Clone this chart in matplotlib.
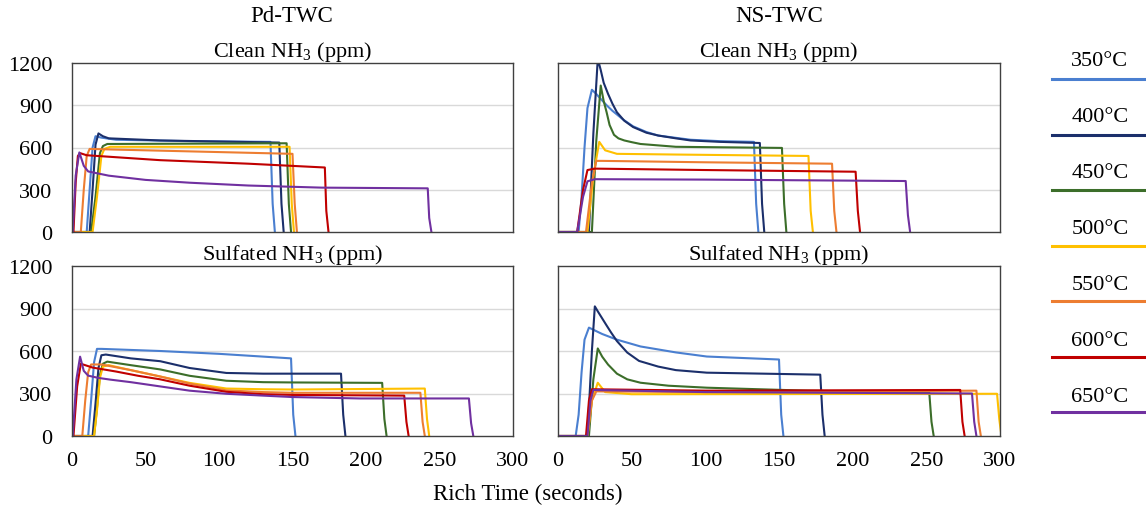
import matplotlib
matplotlib.use("Agg")
import matplotlib.pyplot as plt
from matplotlib.lines import Line2D

plt.rcParams["font.family"] = ["Liberation Serif", "DejaVu Serif"]
plt.rcParams["mathtext.fontset"] = "custom"
plt.rcParams["mathtext.rm"] = "Liberation Serif"

temps = ["350°C", "400°C", "450°C", "500°C", "550°C", "600°C", "650°C"]
colors = ["#4A7FD0", "#1B2F6B", "#3C6E2A", "#FFC000", "#ED7D31", "#C00000", "#7030A0"]

# Pd-TWC, clean
pd_clean_t = [
    [0, 10, 12, 14, 16, 20, 30, 80, 135, 136.5, 138],
    [0, 12, 14, 16, 18, 21, 25, 60, 141, 142.5, 144],
    [0, 13, 16, 19, 21, 24, 146, 147.5, 149],
    [0, 14, 17, 20, 22, 26, 148, 149.5, 151],
    [0, 6, 8, 10, 12, 30, 150, 151.5, 153],
    [0, 1, 2.5, 4, 5.5, 10, 60, 120, 172, 173, 174.5],
    [0, 0.5, 2.5, 5, 8, 11, 25, 50, 80, 120, 170, 242, 243, 244.5],
]
pd_clean_ppm = [
    [0, 0, 300, 600, 680, 670, 655, 645, 640, 200, 0],
    [0, 0, 300, 620, 700, 680, 665, 650, 635, 200, 0],
    [0, 0, 250, 560, 610, 625, 630, 200, 0],
    [0, 0, 250, 540, 590, 605, 605, 200, 0],
    [0, 0, 300, 540, 590, 585, 555, 200, 0],
    [0, 0, 350, 540, 560, 545, 510, 485, 458, 150, 0],
    [0, 0, 400, 565, 470, 430, 400, 370, 350, 330, 315, 310, 100, 0],
]

# NS-TWC, clean
ns_clean_t = [
    [0, 14, 16, 18, 20, 23, 26, 29, 33, 37, 44, 51, 60, 68, 90, 110, 133, 134.5, 136],
    [0, 21, 24, 27, 29, 31, 34, 37, 40, 45, 51, 60, 68, 80, 90, 110, 137, 138.5, 140],
    [0, 23, 26, 29, 31, 33, 35, 38, 41, 45, 50, 56, 80, 152, 153.5, 155],
    [0, 20, 24, 28, 32, 40, 80, 170, 171.5, 173],
    [0, 19, 23, 26, 30, 100, 186, 187.5, 189],
    [0, 13, 17, 20, 25, 100, 202, 203.5, 205],
    [0, 13, 17, 20, 25, 100, 236, 237.5, 239],
]
ns_clean_ppm = [
    [0, 0, 250, 600, 880, 1010, 980, 945, 900, 860, 800, 750, 710, 685, 655, 645, 640, 200, 0],
    [0, 0, 700, 1230, 1150, 1060, 980, 910, 850, 790, 745, 705, 685, 665, 650, 640, 632, 200, 0],
    [0, 0, 650, 1040, 930, 850, 760, 690, 665, 650, 638, 625, 605, 597, 200, 0],
    [0, 0, 400, 640, 580, 555, 550, 540, 150, 0],
    [0, 0, 350, 505, 505, 495, 485, 150, 0],
    [0, 0, 300, 440, 450, 440, 428, 150, 0],
    [0, 0, 250, 360, 375, 372, 362, 120, 0],
]

# Pd-TWC, sulfated
pd_sulf_t = [
    [0, 11, 13, 15, 17, 20, 60, 100, 149, 150.5, 152],
    [0, 14, 16, 18, 20, 23, 40, 60, 80, 105, 130, 183, 184.5, 186],
    [0, 15, 17, 19, 21, 24, 40, 60, 80, 105, 130, 150, 211, 212.5, 214],
    [0, 15, 17, 19, 21, 25, 40, 60, 80, 105, 130, 150, 240, 241.5, 243],
    [0, 7, 9, 11, 13, 20, 40, 60, 80, 105, 130, 150, 237, 238.5, 240],
    [0, 1, 3.5, 6, 14, 30, 45, 60, 80, 105, 130, 150, 226, 227.5, 229],
    [0, 0.5, 3, 5.5, 8, 11, 18, 26, 40, 60, 80, 105, 130, 150, 196, 270, 271.5, 273],
]
pd_sulf_ppm = [
    [0, 0, 250, 520, 615, 615, 600, 580, 548, 150, 0],
    [0, 0, 230, 480, 570, 575, 548, 528, 480, 445, 440, 440, 150, 0],
    [0, 0, 200, 430, 510, 525, 500, 470, 425, 390, 380, 378, 375, 120, 0],
    [0, 0, 180, 410, 490, 500, 465, 420, 375, 335, 330, 328, 335, 120, 0],
    [0, 0, 250, 450, 505, 505, 465, 420, 370, 322, 310, 305, 305, 100, 0],
    [0, 0, 350, 510, 483, 455, 425, 400, 355, 312, 295, 290, 285, 100, 0],
    [0, 0, 400, 560, 460, 426, 410, 398, 380, 350, 320, 298, 285, 275, 265, 265, 90, 0],
]

# NS-TWC, sulfated
ns_sulf_t = [
    [0, 12, 14, 16, 18, 21, 25, 30, 40, 56, 80, 101, 150, 151.5, 153],
    [0, 20, 23, 25, 27, 30, 33, 36, 40, 47, 55, 68, 80, 101, 178, 179.5, 181],
    [0, 21, 24, 27, 30, 34, 40, 47, 56, 75, 101, 169, 252, 253.5, 255],
    [0, 20, 23, 27, 32, 50, 298, 299.5, 301],
    [0, 20, 23, 26, 100, 284, 285.5, 287],
    [0, 19, 21, 23, 100, 273, 274.5, 276],
    [0, 20, 22, 24, 100, 281, 282.5, 284],
]
ns_sulf_ppm = [
    [0, 0, 150, 450, 680, 765, 745, 720, 680, 632, 590, 561, 540, 150, 0],
    [0, 0, 600, 915, 880, 830, 780, 731, 670, 589, 530, 490, 465, 447, 433, 150, 0],
    [0, 0, 400, 618, 560, 504, 440, 400, 376, 355, 341, 320, 305, 100, 0],
    [0, 0, 250, 376, 310, 295, 298, 120, 0],
    [0, 0, 250, 315, 310, 320, 100, 0],
    [0, 0, 250, 330, 320, 325, 100, 0],
    [0, 0, 250, 325, 310, 300, 100, 0],
]

y_ticks = [0, 300, 600, 900, 1200]
x_ticks = [0, 50, 100, 150, 200, 250, 300]

W, H = 1146, 510
fig = plt.figure(figsize=(W / 100, H / 100), dpi=100)


def px_axes(left, top, right, bottom):
    return fig.add_axes([left / W, 1 - bottom / H, (right - left) / W, (bottom - top) / H])


panels = [
    (px_axes(72, 64, 513, 233), pd_clean_t, pd_clean_ppm, "Clean NH$\\mathregular{_3}$ (ppm)", True, False),
    (px_axes(558, 64, 1000, 233), ns_clean_t, ns_clean_ppm, "Clean NH$\\mathregular{_3}$ (ppm)", False, False),
    (px_axes(72, 267, 513, 437), pd_sulf_t, pd_sulf_ppm, "Sulfated NH$\\mathregular{_3}$ (ppm)", True, True),
    (px_axes(558, 267, 1000, 437), ns_sulf_t, ns_sulf_ppm, "Sulfated NH$\\mathregular{_3}$ (ppm)", False, True),
]

for ax, ts, ys, title, show_y, show_x in panels:
    for t, y, c in zip(ts, ys, colors):
        ax.plot(t, y, color=c, linewidth=1.5, solid_joinstyle="round")
    ax.set_xlim(0, 300)
    ax.set_ylim(0, 1200)
    ax.set_yticks(y_ticks)
    ax.set_xticks(x_ticks)
    for v in [300, 600, 900]:
        ax.axhline(v, color="#D9D9D9", linewidth=1.0, zorder=0)
    for s in ax.spines.values():
        s.set_color("#404040")
        s.set_linewidth(1.0)
    ax.tick_params(length=0, labelsize=16, pad=14)
    if not show_y:
        ax.set_yticklabels([])
    if not show_x:
        ax.set_xticklabels([])
    else:
        ax.tick_params(axis="x", pad=11)
    ax.set_title(title, fontsize=16, pad=4)

fig.text(292 / W, 1 - 17 / H, "Pd-TWC", ha="center", va="center", fontsize=16.5)
fig.text(779 / W, 1 - 17 / H, "NS-TWC", ha="center", va="center", fontsize=16.5)
fig.text(528 / W, 1 - 494 / H, "Rich Time (seconds)", ha="center", va="center", fontsize=16.5)

# legend: label above a short line
for i, (lab, c) in enumerate(zip(temps, colors)):
    ty = 62 + 56 * i
    ly = 80 + 55.5 * i
    fig.text(1100 / W, 1 - ty / H, lab, ha="center", va="center", fontsize=16)
    fig.add_artist(Line2D([1052 / W, 1146 / W], [1 - ly / H, 1 - ly / H],
                          transform=fig.transFigure, color=c, linewidth=2.2))

fig.savefig("out.png", dpi=100)
